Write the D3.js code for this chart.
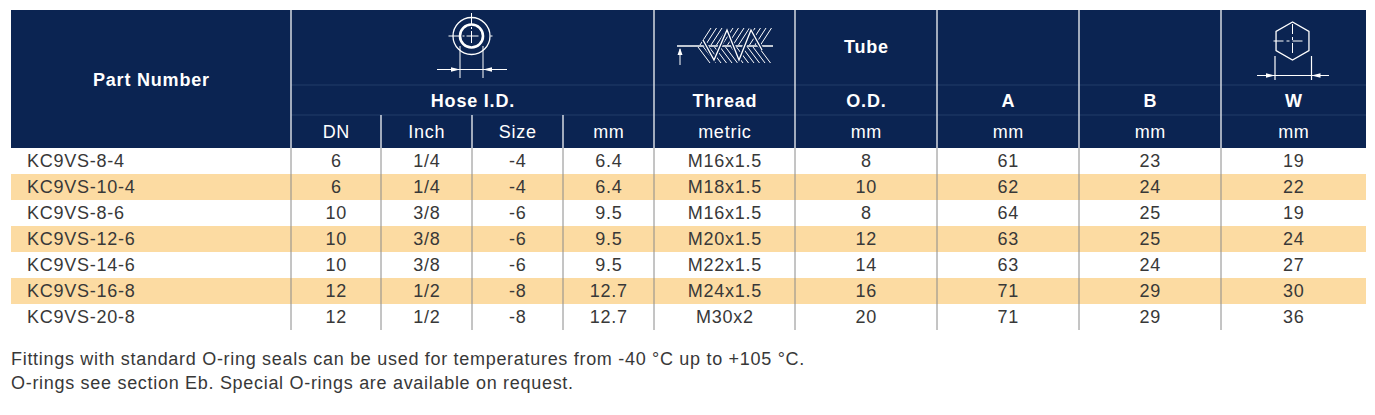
<!DOCTYPE html>
<html>
<head>
<meta charset="utf-8">
<script src="https://cdn.jsdelivr.net/npm/d3@7/dist/d3.min.js"></script>
<style>
  html, body { margin: 0; padding: 0; background: #fff; }
  svg { display: block; font-family: "Liberation Sans", Arial, Helvetica, sans-serif; }
</style>
</head>
<body>
<div id="chart"></div>
<script>
const partNumbers = ["KC9VS-8-4", "KC9VS-10-4", "KC9VS-8-6", "KC9VS-12-6", "KC9VS-14-6", "KC9VS-16-8", "KC9VS-20-8"];
const dnValues = ["6", "6", "10", "10", "10", "12", "12"];
const inchValues = ["1/4", "1/4", "3/8", "3/8", "3/8", "1/2", "1/2"];
const sizeValues = ["-4", "-4", "-6", "-6", "-6", "-8", "-8"];
const mmValues = ["6.4", "6.4", "9.5", "9.5", "9.5", "12.7", "12.7"];
const threadValues = ["M16x1.5", "M18x1.5", "M16x1.5", "M20x1.5", "M22x1.5", "M24x1.5", "M30x2"];
const tubeValues = ["8", "10", "8", "12", "14", "16", "20"];
const aValues = ["61", "62", "64", "63", "63", "71", "71"];
const bValues = ["23", "24", "25", "25", "24", "29", "29"];
const wValues = ["19", "22", "19", "24", "27", "30", "36"];

const columnKeys = ["part", "dn", "inch", "size", "mm", "thread", "tube", "a", "b", "w"];
const unitLabels = ["DN", "Inch", "Size", "mm", "metric", "mm", "mm", "mm", "mm"];
const footnotes = [
  "Fittings with standard O-ring seals can be used for temperatures from -40 °C up to +105 °C.",
  "O-rings see section Eb. Special O-rings are available on request."
];

const width = 1375, height = 415;
const navy = "#0b2452";
const band = "#fcdba2";
const textColor = "#383838";

// column edges (left edge of each column, plus table right edge)
const edges = [11, 291, 381, 472, 563, 654, 795, 937, 1079, 1221, 1366];
const colX = d3.scaleOrdinal().domain(columnKeys).range(edges.slice(0, -1));
const colW = (k) => edges[columnKeys.indexOf(k) + 1] - colX(k);
const colMid = (k) => colX(k) + colW(k) / 2;

const headTop = 10, headBottom = 148, tableBottom = 330;
const y = d3.scaleBand().domain(partNumbers).range([headBottom, tableBottom]);

const rows = partNumbers.map((p, i) => ({
  part: p, dn: dnValues[i], inch: inchValues[i], size: sizeValues[i], mm: mmValues[i],
  thread: threadValues[i], tube: tubeValues[i], a: aValues[i], b: bValues[i], w: wValues[i], i
}));

const svg = d3.select("#chart").append("svg")
  .attr("width", width).attr("height", height);

// header background
svg.append("rect")
  .attr("x", edges[0]).attr("y", headTop)
  .attr("width", edges[edges.length - 1] - edges[0]).attr("height", headBottom - headTop)
  .attr("fill", navy);

// faint sub-row lines in header
[85, 115].forEach((yy) => {
  svg.append("line")
    .attr("x1", edges[1]).attr("x2", edges[edges.length - 1])
    .attr("y1", yy).attr("y2", yy)
    .attr("stroke", "#233d69").attr("stroke-width", 1);
});

// row bands
svg.append("g").selectAll("rect")
  .data(rows.filter((r) => r.i % 2 === 1))
  .join("rect")
  .attr("x", edges[0]).attr("y", (r) => y(r.part))
  .attr("width", edges[edges.length - 1] - edges[0]).attr("height", y.bandwidth())
  .attr("fill", band);

// header separators
const fullSep = ["dn", "thread", "tube", "a", "b", "w"];
svg.append("g").selectAll("line")
  .data(fullSep)
  .join("line")
  .attr("x1", colX).attr("x2", colX)
  .attr("y1", headTop).attr("y2", headBottom)
  .attr("stroke", "#d5d9e2").attr("stroke-width", 1.5);
svg.append("g").selectAll("line")
  .data(["inch", "size", "mm"])
  .join("line")
  .attr("x1", colX).attr("x2", colX)
  .attr("y1", 115).attr("y2", headBottom)
  .attr("stroke", "#d5d9e2").attr("stroke-width", 1.5);

// body separators
svg.append("g").selectAll("line")
  .data(columnKeys.slice(1))
  .join("line")
  .attr("x1", colX).attr("x2", colX)
  .attr("y1", headBottom).attr("y2", tableBottom)
  .attr("stroke", "#8a8a8a").attr("stroke-width", 1);

// header texts
const head = svg.append("g").attr("fill", "#fff").attr("text-anchor", "middle");
const boldSize = 18, lightSize = 18;
const boldGap = 0.8, lightGap = 0.75;
function boldText(x, yy, s) {
  head.append("text")
    .attr("x", x + boldGap / 2).attr("y", yy).attr("dy", "0.35em")
    .attr("font-weight", 700).attr("font-size", boldSize).attr("letter-spacing", boldGap)
    .text(s);
}
boldText((edges[0] + edges[1]) / 2, 80, "Part Number");
boldText((edges[1] + edges[5]) / 2, 101, "Hose I.D.");
boldText(colMid("tube"), 47, "Tube");
const titles = [["thread", "Thread"], ["tube", "O.D."], ["a", "A"], ["b", "B"], ["w", "W"]];
titles.forEach((d) => boldText(colMid(d[0]), 101, d[1]));
head.selectAll("text.unit")
  .data(columnKeys.slice(1))
  .join("text")
  .attr("class", "unit")
  .attr("x", (k) => colMid(k) + lightGap / 2).attr("y", 132).attr("dy", "0.35em")
  .attr("font-size", lightSize).attr("letter-spacing", lightGap)
  .text((k, i) => unitLabels[i]);

// icons
const icons = svg.append("g").attr("stroke", "#fff").attr("fill", "none").attr("stroke-linecap", "butt");

function arrowHead(g, x, yy, dir) {
  // dir: 1 points right, -1 points left
  g.append("path")
    .attr("d", `M${x},${yy} L${x - dir * 9},${yy - 2.2} L${x - dir * 9},${yy + 2.2} Z`)
    .attr("fill", "#fff").attr("stroke", "none");
}

// hose I.D. icon
{
  const cx = 471.5, cy = 36;
  const g = icons.append("g");
  g.append("circle").attr("cx", cx).attr("cy", cy).attr("r", 18.5).attr("stroke-width", 1.3);
  g.append("circle").attr("cx", cx).attr("cy", cy).attr("r", 11.5).attr("stroke-width", 2.6);
  g.append("line").attr("x1", cx - 23).attr("x2", cx + 23).attr("y1", cy).attr("y2", cy)
    .attr("stroke-width", 1).attr("stroke-dasharray", "12 2 2 2 12");
  g.append("line").attr("x1", cx).attr("x2", cx).attr("y1", cy - 23).attr("y2", cy + 16)
    .attr("stroke-width", 1).attr("stroke-dasharray", "12 2 2 2 12");
  g.append("line").attr("x1", cx - 11.5).attr("x2", cx - 11.5).attr("y1", cy + 10).attr("y2", 78).attr("stroke-width", 1);
  g.append("line").attr("x1", cx + 11.5).attr("x2", cx + 11.5).attr("y1", cy + 10).attr("y2", 78).attr("stroke-width", 1);
  g.append("line").attr("x1", 437).attr("x2", 507).attr("y1", 69.5).attr("y2", 69.5).attr("stroke-width", 1.2);
  arrowHead(g, cx - 11.5, 69.5, 1);
  arrowHead(g, cx + 11.5, 69.5, -1);
}

// thread icon
{
  const g = icons.append("g").attr("stroke-width", 1);
  const base = 46;
  g.append("line").attr("x1", 677).attr("x2", 773).attr("y1", base).attr("y2", base).attr("stroke-width", 1.3);
  g.append("line").attr("x1", 680).attr("x2", 680).attr("y1", 65).attr("y2", 49);
  g.append("path").attr("d", `M680,48 L677.5,55 L682.5,55 Z`).attr("fill", "#fff").attr("stroke", "none");
  const hatchTop = d3.range(700, 766, 5.5);
  g.selectAll("line.ht").data(hatchTop).join("line").attr("class", "ht")
    .attr("x1", (d) => d).attr("y1", base - 1).attr("x2", (d) => d + 11).attr("y2", 28);
  g.selectAll("line.hb").data(hatchTop).join("line").attr("class", "hb")
    .attr("x1", (d) => d - 2).attr("y1", base + 1).attr("x2", (d) => d + 10).attr("y2", 63);
  g.append("path")
    .attr("d", "M703,40 L714,60 L727,30 L739,60 L751,30 L762,50")
    .attr("stroke", navy).attr("stroke-width", 4);
  g.append("path")
    .attr("d", "M703,40 L714,60 L727,30 L739,60 L751,30 L762,50")
    .attr("stroke-width", 1.3);
}

// hex W icon
{
  const cx = 1292.5, cy = 41, r = 19;
  const g = icons.append("g").attr("stroke-width", 1.2);
  const hex = d3.range(6).map((k) => {
    const ang = Math.PI / 2 + k * Math.PI / 3;
    return [cx + r * Math.cos(ang), cy - r * Math.sin(ang)];
  });
  g.append("path").attr("d", d3.line()(hex) + "Z").attr("stroke-width", 1.3);
  g.append("line").attr("x1", cx - 19).attr("x2", cx + 19).attr("y1", cy).attr("y2", cy)
    .attr("stroke-width", 1).attr("stroke-dasharray", "10 3 3 3 10");
  g.append("line").attr("x1", cx).attr("x2", cx).attr("y1", cy - 17).attr("y2", cy + 17)
    .attr("stroke-width", 1).attr("stroke-dasharray", "10 3 3 3 10");
  g.append("line").attr("x1", 1275).attr("x2", 1275).attr("y1", 56).attr("y2", 80);
  g.append("line").attr("x1", 1311.5).attr("x2", 1311.5).attr("y1", 56).attr("y2", 80);
  g.append("line").attr("x1", 1257).attr("x2", 1329).attr("y1", 75.5).attr("y2", 75.5);
  arrowHead(g, 1275, 75.5, 1);
  arrowHead(g, 1311.5, 75.5, -1);
}

// body texts
const bodyGap = 0.75;
const body = svg.append("g").attr("fill", textColor).attr("font-size", 18).attr("letter-spacing", bodyGap);
body.selectAll("text.part")
  .data(rows)
  .join("text")
  .attr("class", "part")
  .attr("x", 27).attr("y", (r) => y(r.part) + y.bandwidth() / 2).attr("dy", "0.35em")
  .text((r) => r.part);

const cells = rows.flatMap((r) => columnKeys.slice(1).map((k) => ({ k, v: r[k], part: r.part })));
body.selectAll("text.cell")
  .data(cells)
  .join("text")
  .attr("class", "cell")
  .attr("text-anchor", "middle")
  .attr("x", (d) => colMid(d.k) + bodyGap / 2).attr("y", (d) => y(d.part) + y.bandwidth() / 2).attr("dy", "0.35em")
  .text((d) => d.v);

// footnotes
svg.append("g").attr("fill", textColor).attr("font-size", 18).attr("letter-spacing", 0.7)
  .selectAll("text")
  .data(footnotes)
  .join("text")
  .attr("x", 11).attr("y", (d, i) => 359 + i * 24).attr("dy", "0.35em")
  .text((d) => d);
</script>
</body>
</html>
